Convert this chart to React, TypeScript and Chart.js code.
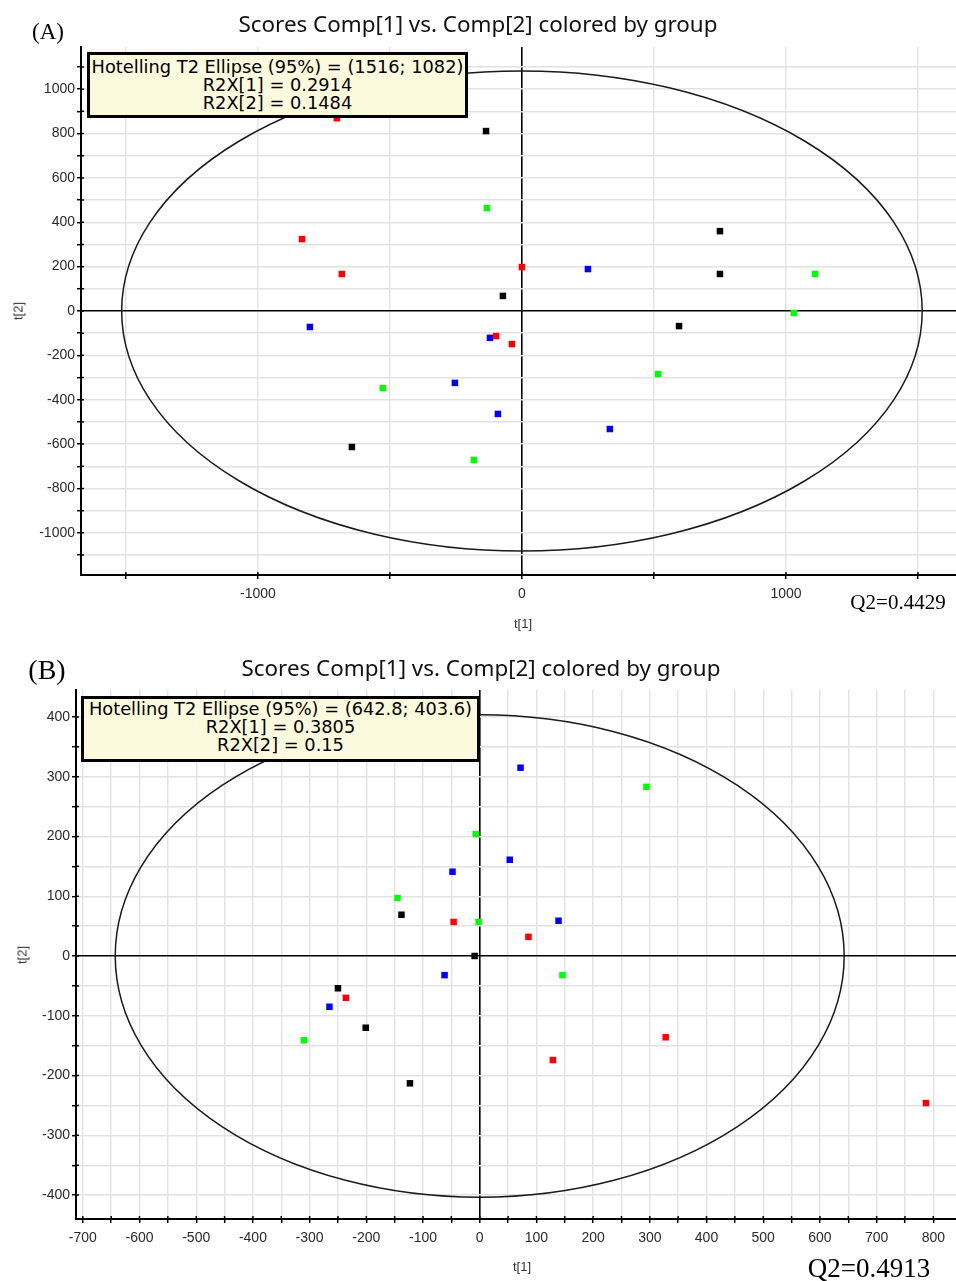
import React, { useEffect, useRef } from "react";
import { Chart, registerables } from "chart.js";

Chart.register(...registerables);

// ---------- data ----------
const GROUP_COLORS = ["#ff0000", "#0000ff", "#00ff00", "#000000"];

// Panel A: t[1], t[2] scores per group
const A_RED = [
  { x: -701, y: 869 }, { x: -833, y: 324 }, { x: -682, y: 167 },
  { x: 0, y: 198 }, { x: -98, y: -113 }, { x: -38, y: -149 },
];
const A_BLUE = [
  { x: -803, y: -72 }, { x: -254, y: -324 }, { x: -121, y: -121 },
  { x: -91, y: -464 }, { x: 250, y: 189 }, { x: 333, y: -532 },
];
const A_GREEN = [
  { x: -133, y: 464 }, { x: -527, y: -347 }, { x: -182, y: -671 },
  { x: 515, y: -284 }, { x: 1030, y: -9 }, { x: 1110, y: 167 },
];
const A_BLACK = [
  { x: -136, y: 811 }, { x: -72, y: 68 }, { x: 750, y: 360 },
  { x: 750, y: 167 }, { x: 595, y: -68 }, { x: -644, y: -613 },
];

// Panel B
const B_RED = [
  { x: -46, y: 57 }, { x: 86, y: 32 }, { x: -236, y: -70 },
  { x: 129, y: -174 }, { x: 328, y: -136 }, { x: 787, y: -246 },
];
const B_BLUE = [
  { x: 72, y: 315 }, { x: 53, y: 161 }, { x: -48, y: 141 },
  { x: 139, y: 59 }, { x: -62, y: -32 }, { x: -265, y: -85 },
];
const B_GREEN = [
  { x: 294, y: 283 }, { x: -7, y: 204 }, { x: -145, y: 97 },
  { x: -2, y: 57 }, { x: 146, y: -32 }, { x: -310, y: -141 },
];
const B_BLACK = [
  { x: -138, y: 69 }, { x: -9, y: 0 }, { x: -250, y: -54 },
  { x: -201, y: -120 }, { x: -123, y: -213 },
];

// Hotelling T2 ellipse semi-axes
const A_ELLIPSE = [1516, 1082];
const B_ELLIPSE = [642.8, 403.6];

// axis ranges
const A_X_RANGE = [-1670, 1644];
const A_Y_RANGE = [-1190, 1190];
const B_X_RANGE = [-712, 840];
const B_Y_RANGE = [-440, 445];

// ticks
const A_X_TICKS = [-1500, -1000, -500, 0, 500, 1000, 1500];
const A_X_LABELED = [-1000, 0, 1000];
const A_Y_TICKS = [-1100, -1000, -900, -800, -700, -600, -500, -400, -300, -200, -100, 0,
  100, 200, 300, 400, 500, 600, 700, 800, 900, 1000, 1100];
const A_Y_LABELED = [-1000, -800, -600, -400, -200, 0, 200, 400, 600, 800, 1000];

const B_X_TICKS = [-700, -650, -600, -550, -500, -450, -400, -350, -300, -250, -200, -150, -100, -50, 0,
  50, 100, 150, 200, 250, 300, 350, 400, 450, 500, 550, 600, 650, 700, 750, 800];
const B_X_LABELED = [-700, -600, -500, -400, -300, -200, -100, 0, 100, 200, 300, 400, 500, 600, 700, 800];
const B_Y_TICKS = [-400, -350, -300, -250, -200, -150, -100, -50, 0, 50, 100, 150, 200, 250, 300, 350, 400];
const B_Y_LABELED = [-400, -300, -200, -100, 0, 100, 200, 300, 400];

// texts
const TITLE = "Scores Comp[1] vs. Comp[2] colored by group";
const A_BOX = ["Hotelling T2 Ellipse (95%) = (1516; 1082)", "R2X[1] = 0.2914", "R2X[2] = 0.1484"];
const B_BOX = ["Hotelling T2 Ellipse (95%) = (642.8; 403.6)", "R2X[1] = 0.3805", "R2X[2] = 0.15"];

// ---------- chart ----------
const ellipsePlugin = {
  id: "hotelling",
  beforeDatasetsDraw(chart: any, _args: any, opts: any) {
    const { ctx, chartArea } = chart;
    const xs = chart.scales.x;
    const ys = chart.scales.y;
    const cx = xs.getPixelForValue(0);
    const cy = ys.getPixelForValue(0);
    const rx = Math.abs(xs.getPixelForValue(opts.a) - cx);
    const ry = Math.abs(ys.getPixelForValue(opts.b) - cy);
    ctx.save();
    ctx.beginPath();
    ctx.rect(chartArea.left, chartArea.top, chartArea.right - chartArea.left, chartArea.bottom - chartArea.top);
    ctx.clip();
    ctx.beginPath();
    ctx.ellipse(cx, cy, rx, ry, 0, 0, Math.PI * 2);
    ctx.strokeStyle = "#1a1a1a";
    ctx.lineWidth = 1.5;
    ctx.stroke();
    ctx.restore();
  },
};

// tick marks crossing the axis line on the inner side too
const crossTicksPlugin = {
  id: "crossTicks",
  afterDatasetsDraw(chart: any) {
    const { ctx, chartArea } = chart;
    const xs = chart.scales.x;
    const ys = chart.scales.y;
    ctx.save();
    ctx.strokeStyle = "#000";
    ctx.lineWidth = 1.5;
    ctx.beginPath();
    xs.ticks.forEach((t: any) => {
      const px = xs.getPixelForValue(t.value);
      ctx.moveTo(px, chartArea.bottom);
      ctx.lineTo(px, chartArea.bottom - 3);
    });
    ys.ticks.forEach((t: any) => {
      const py = ys.getPixelForValue(t.value);
      ctx.moveTo(chartArea.left, py);
      ctx.lineTo(chartArea.left + 3, py);
    });
    ctx.stroke();
    ctx.restore();
  },
};

type PanelCfg = {
  width: number;
  height: number;
  padTop: number;
  yWidth: number;
  xHeight: number;
  xRange: number[];
  yRange: number[];
  xTicks: number[];
  xLabeled: number[];
  yTicks: number[];
  yLabeled: number[];
  ellipse: number[];
  groups: { x: number; y: number }[][];
};

function gridColor(c: any) {
  return c.tick && c.tick.value === 0 ? "#000000" : "#e2e2e2";
}
function gridWidth(c: any) {
  return c.tick && c.tick.value === 0 ? 1.6 : 1.4;
}

function ScorePanel({ cfg }: { cfg: PanelCfg }) {
  const ref = useRef<HTMLCanvasElement>(null);
  useEffect(() => {
    if (!ref.current) return;
    const tickFont = { family: "'Liberation Sans', Arial, sans-serif", size: 14 };
    const chart = new Chart(ref.current, {
      type: "scatter",
      data: {
        datasets: cfg.groups.map((pts, i) => ({
          data: pts,
          backgroundColor: GROUP_COLORS[i],
          borderColor: GROUP_COLORS[i],
          pointStyle: "rect",
          pointRadius: 4.6,
          pointBorderWidth: 0,
          showLine: false,
        })),
      },
      options: {
        responsive: false,
        animation: false,
        layout: { autoPadding: false, padding: { top: cfg.padTop, left: 0, right: 0, bottom: 0 } },
        plugins: {
          legend: { display: false },
          tooltip: { enabled: false },
          title: { display: false },
          hotelling: { a: cfg.ellipse[0], b: cfg.ellipse[1] },
        } as any,
        scales: {
          x: {
            type: "linear",
            min: cfg.xRange[0],
            max: cfg.xRange[1],
            afterBuildTicks: (s: any) => {
              s.ticks = cfg.xTicks.map((v) => ({ value: v }));
            },
            afterFit: (s: any) => {
              s.height = cfg.xHeight;
            },
            ticks: {
              autoSkip: false,
              maxRotation: 0,
              padding: 7,
              color: "#2a2a2a",
              font: tickFont,
              callback: (v: any) => (cfg.xLabeled.includes(Number(v)) ? String(v) : ""),
            },
            grid: {
              color: gridColor,
              lineWidth: gridWidth,
              tickColor: "#000000",
              tickLength: 4,
              tickWidth: 1.5,
            },
            border: { color: "#000000", width: 2 },
          },
          y: {
            type: "linear",
            min: cfg.yRange[0],
            max: cfg.yRange[1],
            afterBuildTicks: (s: any) => {
              s.ticks = cfg.yTicks.map((v) => ({ value: v }));
            },
            afterFit: (s: any) => {
              s.width = cfg.yWidth;
            },
            ticks: {
              autoSkip: false,
              padding: 2,
              color: "#2a2a2a",
              font: tickFont,
              callback: (v: any) => (cfg.yLabeled.includes(Number(v)) ? String(v) : ""),
            },
            grid: {
              color: gridColor,
              lineWidth: gridWidth,
              tickColor: "#000000",
              tickLength: 4,
              tickWidth: 1.5,
            },
            border: { color: "#000000", width: 2 },
          },
        },
      } as any,
      plugins: [ellipsePlugin, crossTicksPlugin],
    });
    return () => chart.destroy();
  }, []);
  return (
    <canvas
      ref={ref}
      width={cfg.width}
      height={cfg.height}
      style={{ display: "block", width: cfg.width, height: cfg.height }}
    />
  );
}

const PANEL_A: PanelCfg = {
  width: 956, height: 640, padTop: 47, yWidth: 81, xHeight: 65,
  xRange: A_X_RANGE, yRange: A_Y_RANGE,
  xTicks: A_X_TICKS, xLabeled: A_X_LABELED, yTicks: A_Y_TICKS, yLabeled: A_Y_LABELED,
  ellipse: A_ELLIPSE, groups: [A_RED, A_BLUE, A_GREEN, A_BLACK],
};
const PANEL_B: PanelCfg = {
  width: 956, height: 641, padTop: 50, yWidth: 76, xHeight: 62,
  xRange: B_X_RANGE, yRange: B_Y_RANGE,
  xTicks: B_X_TICKS, xLabeled: B_X_LABELED, yTicks: B_Y_TICKS, yLabeled: B_Y_LABELED,
  ellipse: B_ELLIPSE, groups: [B_RED, B_BLUE, B_GREEN, B_BLACK],
};

function Label(props: { x: number; y: number; text: string; font: string; size: number; color?: string; rotate?: boolean }) {
  return (
    <div
      style={{
        position: "absolute",
        left: props.x,
        top: props.y,
        transform: "translate(-50%, -50%)" + (props.rotate ? " rotate(-90deg)" : ""),
        whiteSpace: "nowrap",
        lineHeight: 1,
        fontFamily: props.font,
        fontSize: props.size,
        color: props.color || "#000",
      }}
    >
      {props.text}
    </div>
  );
}

function InfoBox(props: { left: number; top: number; width: number; height: number; lines: string[]; padTop: number }) {
  return (
    <div
      style={{
        position: "absolute",
        left: props.left,
        top: props.top,
        width: props.width,
        height: props.height,
        boxSizing: "border-box",
        border: "3px solid #000",
        background: "#fcfadc",
        textAlign: "center",
        paddingTop: props.padTop,
        fontFamily: "'DejaVu Sans', Verdana, sans-serif",
        fontSize: 17.8,
        lineHeight: "18px",
        color: "#000",
        whiteSpace: "nowrap",
      }}
    >
      {props.lines.map((l, i) => (
        <div key={i}>{l}</div>
      ))}
    </div>
  );
}

const SERIF = "'Liberation Serif', 'Times New Roman', serif";
const SANS = "'Noto Sans', 'DejaVu Sans', sans-serif";
const AXIS = "'Liberation Sans', Arial, sans-serif";

export default function App() {
  return (
    <div style={{ position: "absolute", left: 0, top: 0, width: 956, height: 1281, background: "#fff", overflow: "hidden" }}>
      <div style={{ position: "absolute", left: 0, top: 0 }}>
        <ScorePanel cfg={PANEL_A} />
      </div>
      <div style={{ position: "absolute", left: 0, top: 640 }}>
        <ScorePanel cfg={PANEL_B} />
      </div>

      {/* Panel A texts */}
      <Label x={48} y={31} text="(A)" font={SERIF} size={23} />
      <Label x={478} y={24} text={TITLE} font={SANS} size={22.4} color="#111" />
      <Label x={523} y={623} text="t[1]" font={AXIS} size={13} color="#333" />
      <Label x={18} y={311} text="t[2]" font={AXIS} size={13} color="#333" rotate />
      <Label x={898} y={602} text="Q2=0.4429" font={SERIF} size={21} />
      <InfoBox left={87} top={52} width={381} height={66} lines={A_BOX} padTop={3} />

      {/* Panel B texts */}
      <Label x={47} y={670} text="(B)" font={SERIF} size={28} />
      <Label x={481} y={668} text={TITLE} font={SANS} size={22.4} color="#111" />
      <Label x={522} y={1266} text="t[1]" font={AXIS} size={13} color="#333" />
      <Label x={22} y={955} text="t[2]" font={AXIS} size={13} color="#333" rotate />
      <Label x={869} y={1268} text="Q2=0.4913" font={SERIF} size={27} />
      <InfoBox left={81} top={696} width={399} height={66} lines={B_BOX} padTop={1} />
    </div>
  );
}
